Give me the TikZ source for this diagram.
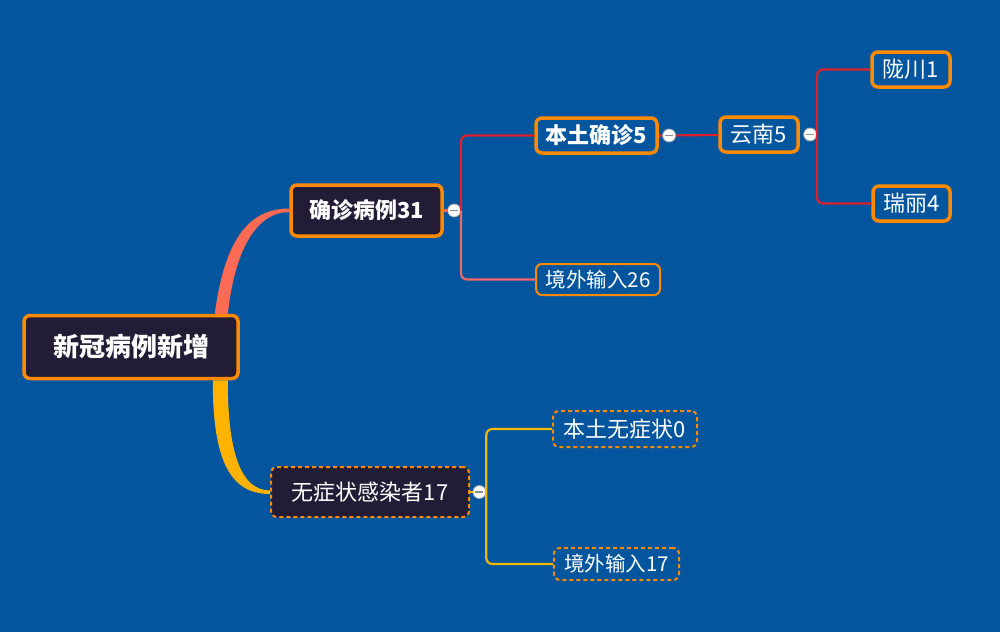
\documentclass[tikz,border=0pt]{standalone}
\usepackage{fontspec}
\setmainfont{Noto Sans CJK SC}
\usetikzlibrary{positioning}
\definecolor{bgblue}{RGB}{3,86,158}
\definecolor{darkbox}{RGB}{35,28,54}
\definecolor{boxorange}{RGB}{255,138,0}
\definecolor{coral}{RGB}{255,106,84}
\definecolor{amber}{RGB}{255,178,0}
\definecolor{branchred}{RGB}{222,32,44}
\definecolor{branchpink}{RGB}{242,104,104}
\definecolor{branchyellow}{RGB}{245,182,0}
\tikzset{
  topic/.style={draw=boxorange, line width=3.5pt, rounded corners=6pt, text=white, inner sep=0pt, align=center},
  roottopic/.style={topic, fill=darkbox, font=\bfseries\fontsize{26}{30}\selectfont},
  maintopic/.style={topic, fill=darkbox, font=\bfseries\fontsize{22}{26}\selectfont},
  subtopic/.style={topic, fill=bgblue, font=\fontsize{22}{26}\selectfont},
  thintopic/.style={subtopic, line width=2pt, font=\fontsize{20.5}{24}\selectfont},
  dashtopic/.style={topic, line width=2pt, dash pattern=on 4pt off 3pt},
  tog/.style={circle, draw=gray!70, fill=white, line width=0.8pt, minimum size=13pt, inner sep=0pt,
    path picture={\draw[gray!90, line width=1.4pt] ([xshift=-4pt]path picture bounding box.center) -- ([xshift=4pt]path picture bounding box.center);}},
  branch/.style={line width=2.2pt, rounded corners=6pt}
}
\begin{document}
\begin{tikzpicture}[x=1pt, y=-1pt]
    \useasboundingbox (0,0) rectangle (1000,632);
    \fill[bgblue] (0,0) rectangle (1000,632);

    \node[roottopic, minimum width=214pt, minimum height=63pt] (root) at (131,347) {新冠病例新增};
    \node[maintopic, minimum width=151pt, minimum height=51pt] (cases) at (366.5,210.5) {确诊病例31};
    \node[dashtopic, fill=darkbox, font=\fontsize{22}{26}\selectfont, minimum width=198pt, minimum height=50pt] (asym) at (370,492) {无症状感染者17};

    \node[subtopic, font=\bfseries\fontsize{22}{26}\selectfont, minimum width=121pt, minimum height=35pt] (local) at (596.5,135.5) {本土确诊5};
    \node[thintopic, minimum width=124pt, minimum height=31pt] (importa) at (598,279.5) {境外输入26};
    \node[subtopic, minimum width=78pt, minimum height=35pt] (yunnan) at (759,134.5) {云南5};
    \node[subtopic, minimum width=78pt, minimum height=35pt] (longchuan) at (911,69.5) {陇川1};
    \node[subtopic, minimum width=77pt, minimum height=35pt] (ruili) at (911.5,203.5) {瑞丽4};

    \node[dashtopic, fill=bgblue, font=\fontsize{22}{26}\selectfont, minimum width=144pt, minimum height=36pt] (localasym) at (625,429) {本土无症状0};
    \node[dashtopic, fill=bgblue, font=\fontsize{20.5}{24}\selectfont, minimum width=125pt, minimum height=32pt] (importb) at (616.5,564) {境外输入17};

    \node[tog, right=3.5pt of cases] (casestog) {};
    \node[tog, right=3.5pt of local] (localtog) {};
    \node[tog, right=3.5pt of yunnan] (yunnantog) {};
    \node[tog, right=2.5pt of asym] (asymtog) {};

    \fill[coral] ([xshift=-25pt]root.north east) .. controls +(10,-75) and +(-40,0) .. ([yshift=2pt]cases.west)
        -- ([yshift=-1.5pt]cases.west) .. controls +(-30,0) and +(8,-70) .. ([xshift=-12pt]root.north east) -- cycle;
    \fill[amber] ([xshift=-27pt]root.south east) .. controls +(0,80) and +(-40,0) .. ([yshift=-2pt]asym.west)
        -- ([yshift=1.5pt]asym.west) .. controls +(-30,0) and +(0,70) .. ([xshift=-12pt]root.south east) -- cycle;

    \draw[branch, coral] (cases) -- (casestog);
    \draw[branch, branchred] (casestog.east) |- (local);
    \draw[branch, branchpink] (casestog.east) |- (importa);
    \draw[branch, branchred] (local) -- (localtog);
    \draw[branch, branchred] (localtog) -- (yunnan);
    \draw[branch, branchred] (yunnantog.east) |- (longchuan);
    \draw[branch, branchred] (yunnantog.east) |- (ruili);
    \draw[branch, branchyellow] (asym) -- (asymtog);
    \draw[branch, branchyellow] (asymtog.east) |- (localasym);
    \draw[branch, branchyellow] (asymtog.east) |- (importb);
\end{tikzpicture}
\end{document}
